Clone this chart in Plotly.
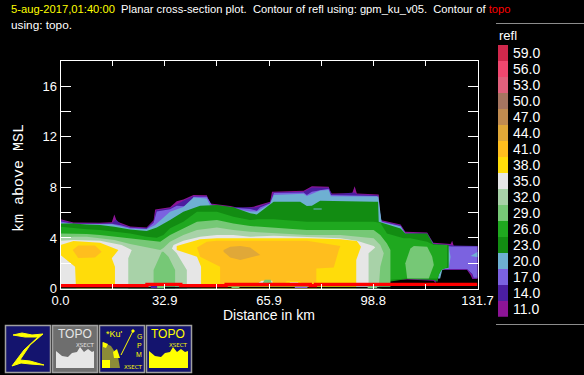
import plotly.graph_objects as go

FONT = "Liberation Sans"
refl_levels = [11, 14, 17, 20, 23, 26, 29, 32, 35, 38, 41, 44, 47, 50, 53, 56, 59]
refl_colors = ["#8C1496", "#4B1EA0", "#7B62E0", "#6EB0D2", "#128C12", "#1FA81F", "#76C876", "#A8D2A8", "#E6E6E6",
               "#FFDC0A", "#FFBE1E", "#E0A838", "#C08B50", "#A67560", "#E0607C", "#F0476F", "#D0284C"]
x_tick_vals = [0, 16.46, 32.92, 49.39, 65.85, 82.31, 98.77, 115.24, 131.7]
x_tick_text = ["0.0", "", "32.9", "", "65.9", "", "98.8", "", "131.7"]
y_tick_vals = [0, 2, 4, 6, 8, 10, 12, 14, 16, 18]
y_tick_text = ["0", "", "4", "", "8", "", "12", "", "16", ""]

# Outlines of the areas with reflectivity at or above each level: distance (km), height (km)
a11_x = [0, 4.1, 12.5, 16.2, 17, 17.8, 22, 27.2, 29.4, 29.9, 34.6, 36.7, 38.8, 42, 46.2, 47.3, 53.6, 56.8, 61, 66.2, 66.8, 76.8, 79.4, 84.7, 85.4, 92.1, 92.9, 93.6, 100.5, 101, 107.4, 108.9, 115.8, 117.7, 123.2, 123.7, 124.2, 131.8, 131.8, 130.1, 129.5, 128.4, 120.6, 118.8, 118.4, 117.9, 109.5, 103.7, 102.1, 100.5, 0]
a11_y = [5.47, 5.23, 5.2, 5.25, 5.86, 5.3, 4.9, 4.83, 5.4, 6.26, 6.42, 6.9, 7.05, 7.39, 7.37, 6.73, 6.52, 6.34, 6.47, 6.86, 7.66, 7.73, 8.1, 8.05, 7.52, 7.52, 8.1, 7.52, 7.44, 5.42, 5.07, 4.49, 4.44, 3.62, 3.52, 3.78, 3.36, 3.36, 0.75, 0.75, 1.07, 1.46, 1.46, 1.2, 0.41, 0.62, 0.72, 0.67, 0.28, 0, 0]
a14_x = [0, 4.1, 12.5, 16.2, 17.5, 19, 22, 27.2, 29.4, 30.2, 34.6, 38.8, 42, 46.2, 47.6, 53.6, 59.9, 62, 66.2, 67.2, 76.8, 79.4, 84.7, 85.8, 92.9, 93.6, 100.2, 101.2, 107.4, 108.9, 115.8, 117.9, 123.2, 124.2, 131.8, 131.8, 130.3, 129.9, 128.4, 120.8, 119.2, 118.6, 117.9, 109.5, 103.9, 102.1, 100.5, 0]
a14_y = [5.4, 5.17, 5.14, 5.18, 5.45, 5.1, 4.84, 4.78, 5.3, 6.2, 6.35, 6.95, 7.3, 7.3, 6.65, 6.45, 6.4, 6.42, 6.8, 7.6, 7.65, 8.0, 7.97, 7.45, 7.6, 7.45, 7.38, 5.35, 5, 4.4, 4.37, 3.55, 3.45, 3.4, 3.36, 0.8, 0.8, 1.1, 1.5, 1.5, 1.25, 0.45, 0.67, 0.77, 0.72, 0.33, 0, 0]
a17_x = [0, 4.1, 12.5, 16.2, 19, 22, 27.2, 29.4, 30.4, 34.6, 36.7, 38.8, 41, 42, 46.2, 47.8, 53.6, 59.9, 62, 63, 66.2, 67.4, 76.8, 77.8, 79.4, 82, 84.7, 85.4, 100, 101.4, 107.4, 109, 115.8, 117.9, 123.5, 131.8, 131.8, 130.5, 130.1, 128.4, 121, 119.6, 119, 118, 109.5, 104, 102.4, 100.8, 0]
a17_y = [5.3, 5.13, 5.1, 5.12, 5.0, 4.8, 4.73, 5.2, 6.1, 6.28, 6.55, 6.5, 6.6, 7.25, 7.25, 6.6, 6.4, 6.3, 6.15, 6.4, 6.75, 7.55, 7.6, 7.39, 7.65, 7.79, 7.9, 7.4, 7.32, 5.3, 4.95, 4.35, 4.3, 3.48, 3.33, 3.33, 0.85, 0.85, 1.15, 1.55, 1.55, 1.3, 0.55, 0.72, 0.82, 0.77, 0.4, 0, 0]
a20_x = [0, 4.1, 12.5, 16.2, 22, 27.2, 29.9, 34.6, 38.8, 42, 46.2, 47.3, 53.6, 56.8, 59.9, 62, 66.2, 67.4, 76.8, 77.8, 79.4, 82, 84.7, 85.4, 100.4, 101.4, 107.4, 108.9, 115.8, 117.9, 122.6, 123.2, 122.6, 120.6, 119.9, 118, 109.5, 104.2, 102.6, 101, 0]
a20_y = [5.2, 5.1, 5.08, 5.08, 4.72, 4.68, 5.02, 6.07, 6.45, 7.2, 7.13, 6.55, 6.35, 6.2, 6.1, 6.1, 6.7, 7.4, 7.5, 7.31, 7.47, 7.75, 7.8, 7.3, 7.28, 5.25, 4.9, 4.3, 4.2, 3.4, 3.3, 2.5, 1.6, 1.5, 0.8, 0.77, 0.87, 0.82, 0.45, 0, 0]
a20b_x = [129.5, 131.8, 131.8]
a20b_y = [2.57, 2.91, 2.47]
a20c_x = [79.9, 82.5, 82.5, 79.9]
a20c_y = [6.33, 6.33, 6.25, 6.25]
a23_x = [0, 4.1, 8.3, 12.5, 17, 22, 27.2, 30.4, 34.6, 38.8, 44.1, 49.4, 54.6, 59.9, 62, 67.3, 75.7, 77.8, 79.4, 82, 98.9, 100.3, 100.5, 107.4, 108.9, 115.8, 117.7, 122.1, 122.6, 122.6, 120.5, 119.5, 119, 117.9, 109.5, 103.7, 102.1, 101, 0]
a23_y = [5.15, 5.15, 5.07, 5.02, 4.89, 4.67, 4.55, 4.83, 5.42, 6.07, 6.55, 6.6, 6.42, 5.95, 5.86, 6.86, 6.86, 6.52, 6.55, 6.94, 6.86, 6.86, 5.28, 4.75, 4.36, 4.36, 3.52, 3.44, 3.44, 1.65, 1.55, 1.1, 0.54, 0.67, 0.75, 0.54, 0.28, 0.1, 0]
a26_x = [0, 4.1, 8.3, 12.5, 17, 22, 27.2, 30.4, 32.5, 34.6, 38.8, 43.1, 49.4, 54.6, 59.9, 62, 67.3, 77.8, 88.4, 98.9, 101, 103.1, 108.4, 110.5, 115.8, 117.9, 122.1, 122.1, 120, 119, 109.5, 103.1, 102.1, 101.5, 0]
a26_y = [4.89, 4.76, 4.68, 4.63, 4.49, 4.36, 4.1, 4.02, 4.23, 4.76, 5.28, 6.07, 6.07, 5.68, 5.42, 5.47, 5.47, 5.28, 5.28, 5.28, 5.2, 4.36, 3.97, 3.97, 3.7, 3.44, 3.44, 1.7, 1.4, 0.8, 0.8, 0.67, 0.41, 0, 0]
a29_x = [0, 4.1, 8.3, 12.5, 17, 22, 27.2, 31.5, 34.6, 38.8, 43.1, 49.4, 54.6, 59.9, 67.3, 77.8, 88.4, 98.9, 101, 103.1, 104.2, 104.2, 0]
a29_y = [4.36, 4.36, 4.31, 4.23, 4.1, 3.97, 3.83, 3.7, 4.23, 4.76, 5.28, 5.42, 5.15, 4.94, 4.83, 4.63, 4.63, 4.63, 4.23, 3.57, 3.04, 0, 0]
a29b_x = [108.9, 110.5, 111.6, 115.8, 117.4, 117.9, 116.3, 109.5]
a29b_y = [1.99, 3.17, 3.36, 3.31, 2.52, 1.86, 0.8, 0.8]
a32_x = [0, 4.1, 8.3, 12.5, 17, 22, 27.2, 31.5, 32.5, 34.6, 38.8, 43.1, 49.4, 54.6, 59.9, 67.3, 77.8, 88.4, 93.6, 98.9, 101, 102.1, 101, 100.5, 36.2, 36.2, 34.1, 32.5, 32, 29.4, 29.4, 0]
a32_y = [3.97, 4.1, 4.1, 3.97, 3.83, 3.52, 3.25, 3.04, 3.2, 3.7, 4.23, 4.63, 4.83, 4.63, 4.49, 4.36, 4.23, 4.23, 4.1, 3.97, 3.44, 2.78, 1.73, 0, 0, 1.46, 2.52, 2.91, 2.91, 1.46, 0, 0]
a35_x = [0, 4.1, 12.5, 17.2, 19.3, 22.5, 21.4, 21.4, 0]
a35_y = [3.78, 3.83, 3.78, 3.57, 3.44, 3.04, 2.39, 0, 0]
a35b_x = [35.7, 38.8, 44.1, 49.4, 54.6, 59.9, 67.3, 77.8, 88.4, 93.6, 98.9, 99.4, 97.3, 97.3, 39.9, 39.9, 36.7, 35.2]
a35b_y = [3.44, 3.78, 4.1, 4.23, 4.23, 4.1, 4.18, 4.1, 3.97, 3.78, 3.36, 3.25, 2.78, 0, 0, 1.46, 2.78, 3.17]
a38_x = [0, 4.1, 12.5, 17.2, 18.3, 16.2, 17.2, 17.2, 4.9, 4.6, 2, 0]
a38_y = [3.44, 3.75, 3.62, 3.17, 3.04, 2.39, 1.73, 0, 0, 1.73, 2.25, 2.65]
a38b_x = [36.7, 38.8, 44.1, 49.4, 54.6, 59.9, 67.3, 77.8, 88.4, 93.6, 94.9, 93.4, 93.4, 44.4, 44.4, 43.1, 36.7]
a38b_y = [3.36, 3.52, 3.89, 3.97, 3.97, 3.97, 3.97, 3.97, 3.89, 3.75, 3.31, 2.25, 0, 0, 1.73, 2.52, 3.04]
a41_x = [3.85, 5.6, 10.9, 13, 10.9, 5.6]
a41_y = [3.04, 3.41, 3.41, 2.91, 2.46, 2.41]
a41b_x = [43.1, 46.2, 49.4, 59.9, 67.3, 77.8, 88.4, 87.9, 86.3, 80.8, 80.8, 50.4, 50.4, 44.1]
a41b_y = [3.25, 3.7, 3.78, 3.78, 3.83, 3.78, 3.36, 3.04, 1.67, 1.59, 0, 0, 1.73, 2.52]
a44_x = [51.5, 53.6, 56.8, 59.9, 63.1, 59.9, 56.8, 53.6, 51.5]
a44_y = [3.04, 3.31, 3.36, 3.25, 2.65, 2.46, 2.25, 2.46, 2.91]

# Small low-level echoes just above the ground contour
bump_38_x = [70.5, 71.5, 75.5, 76.5]
bump_38_y = [0.3, 0.6, 0.6, 0.3]
bump_35_x = [72, 72.5, 75, 75.5]
bump_35_y = [0.3, 0.5, 0.5, 0.3]
bump_35b_x = [61.8, 63.5, 66.9, 66.9]
bump_35b_y = [0.3, 0.62, 0.62, 0.3]
bump_29_x = [63.5, 64.5, 66.4, 66.9]
bump_29_y = [0.3, 0.7, 0.7, 0.3]

# Ground strip under the contour, with echoes showing through it
ground_x = [0, 131.7, 131.7, 0]
ground_y = [0, 0, 0.13, 0.13]
speck_29_x = [30.5, 33, 33, 30.5]
speck_29_y = [0.02, 0.02, 0.22, 0.22]
speck_14_x = [28.5, 30.5, 30.5, 28.5]
speck_14_y = [0.02, 0.02, 0.22, 0.22]
speck_29b_x = [54, 56.5, 56.5, 54]
speck_29b_y = [0.03, 0.03, 0.14, 0.14]
speck_29c_x = [97, 100, 100, 97]
speck_29c_y = [0.03, 0.03, 0.14, 0.14]
speck_17_x = [74, 78, 78, 74]
speck_17_y = [0.04, 0.04, 0.14, 0.14]

# Topography contour
topo_x = [0, 27.3, 27.3, 38, 38, 52.3, 52.3, 78.9, 78.9, 80.5, 80.5, 131.7]
topo_y = [0.22, 0.22, 0.32, 0.32, 0.22, 0.22, 0.32, 0.32, 0.22, 0.22, 0.32, 0.32]

outlines = [
    (a11_x, a11_y, 11), (a14_x, a14_y, 14), (a17_x, a17_y, 17), (a20_x, a20_y, 20), (a20b_x, a20b_y, 20),
    (a23_x, a23_y, 23), (a20c_x, a20c_y, 20), (a26_x, a26_y, 26), (a29_x, a29_y, 29), (a29b_x, a29b_y, 29), (a32_x, a32_y, 32),
    (a35_x, a35_y, 35), (a35b_x, a35b_y, 35), (a38_x, a38_y, 38), (a38b_x, a38b_y, 38),
    (a41_x, a41_y, 41), (a41b_x, a41b_y, 41), (a44_x, a44_y, 44),
    (bump_38_x, bump_38_y, 38), (bump_35_x, bump_35_y, 35), (bump_35b_x, bump_35b_y, 35), (bump_29_x, bump_29_y, 29),
]
specks = [(speck_29_x, speck_29_y, 29), (speck_14_x, speck_14_y, 14), (speck_29b_x, speck_29b_y, 29),
          (speck_29c_x, speck_29c_y, 29), (speck_17_x, speck_17_y, 17)]

fig = go.Figure()
def area(xs, ys, col):
    fig.add_trace(go.Scatter(x=xs, y=ys, mode="lines", fill="toself", fillcolor=col,
                             line=dict(width=0, color=col), hoverinfo="skip", showlegend=False))
for xs, ys, lev in outlines:
    area(xs, ys, refl_colors[refl_levels.index(lev)])
area(ground_x, ground_y, "#000000")
for xs, ys, lev in specks:
    area(xs, ys, refl_colors[refl_levels.index(lev)])
fig.add_trace(go.Scatter(x=topo_x, y=topo_y, mode="lines", line=dict(color="#FF0000", width=3.3),
                         hoverinfo="skip", showlegend=False))

# colour key
n = len(refl_levels)
cs = []
for i, c in enumerate(refl_colors):
    cs += [[i / n, c], [(i + 1) / n, c]]
fig.add_trace(go.Heatmap(x=[0], y=list(range(n)), z=[[v] for v in refl_levels], xaxis="x2", yaxis="y2",
                         zmin=9.5, zmax=60.5, colorscale=cs, showscale=False, hoverinfo="skip", xgap=0, ygap=0))

W, H = 584.0, 375.0
PX = lambda p: p / W
PY = lambda p: 1 - p / H
def rect(x0, y0, x1, y1, fill, line=None, lw=0):
    return dict(type="rect", xref="paper", yref="paper", x0=PX(x0), x1=PX(x1), y0=PY(y0), y1=PY(y1),
                fillcolor=fill, line=dict(color=line or fill, width=lw), layer="above")
def path(pts, fill=None, line=None, lw=1):
    d = "M " + " L ".join(f"{PX(a):.4f},{PY(b):.4f}" for a, b in pts)
    if fill:
        d += " Z"
    return dict(type="path", xref="paper", yref="paper", path=d, fillcolor=fill or "rgba(0,0,0,0)",
                line=dict(color=line or "rgba(0,0,0,0)", width=lw), layer="above")
def text(x, y, s, color="#FFFFFF", size=13, anchor="left", angle=0, family=FONT, va="middle"):
    return dict(xref="paper", yref="paper", x=PX(x), y=PY(y), text=s, showarrow=False, textangle=angle,
                xanchor=anchor, yanchor=va, font=dict(color=color, size=size, family=family),
                xshift=0, yshift=0, borderpad=0, align="left")

NAVY, YEL, GR = "#14146E", "#FFFF00", "#A0A0A0"
shapes = [
    dict(type="line", xref="paper", yref="paper", x0=PX(496), x1=1, y0=PY(23.5), y1=PY(23.5), line=dict(color="#8C8C8C", width=1)),
    dict(type="line", xref="paper", yref="paper", x0=PX(496), x1=1, y0=PY(324.5), y1=PY(324.5), line=dict(color="#8C8C8C", width=1)),
    rect(5.5, 325.5, 50.5, 372.5, NAVY, GR, 1.5),
    rect(52.5, 325.5, 97.5, 372.5, "#6E6E6E", GR, 1.5),
    rect(99.5, 325.5, 144.5, 372.5, NAVY, GR, 1.5),
    rect(146.5, 325.5, 191.5, 372.5, NAVY, GR, 1.5),
    path([(13, 335), (22, 333), (32, 335), (43, 334), (30, 345), (20, 360), (30, 361), (44, 365), (30, 364), (21, 363), (12, 366), (24, 350), (38, 337), (25, 337)], YEL, YEL, 1),
    path([(56, 368), (56, 351), (62, 356), (68, 357), (72, 353), (77, 352), (80, 347), (84, 352), (88, 349), (92, 352), (94, 351), (94, 368)], "#E6E6E6"),
    path([(149, 368), (149, 351), (155, 356), (161, 357), (165, 353), (170, 352), (173, 347), (177, 352), (181, 349), (185, 352), (188, 351), (188, 368)], YEL),
    path([(102, 342), (111, 346), (118, 357), (120, 368), (102, 368)], "#8C8C38"),
    path([(102, 360), (110, 360), (110, 368), (102, 368)], YEL),
    path([(103, 342), (108, 344), (106, 348), (103, 347)], YEL),
    path([(113, 352), (117, 349), (120, 358), (114, 358)], YEL),
    path([(121, 355), (133, 331)], None, YEL, 1),
    path([(131, 331), (133, 329), (135, 331), (133, 333)], YEL),
]
anns = [
    text(10, 9, '<span style="color:#FFFF00">5-aug-2017,01:40:00</span>  Planar cross-section plot.  Contour of refl using: gpm_ku_v05.  Contour of <span style="color:#FF0000">topo</span>', size=11.2),
    text(10, 25, "using: topo.", size=11.8),
    text(19, 178, "km above MSL", size=15, angle=-90, anchor="center", family="Liberation Mono"),
    text(269, 315, "Distance in km", size=14, anchor="center"),
    text(498, 36, "refl", size=13),
    text(75, 334, "TOPO", color="#E6E6E6", size=12, anchor="center"),
    text(85, 345, "XSECT", color="#E6E6E6", size=5.5, anchor="center", family="DejaVu Sans"),
    text(168, 334, "TOPO", color=YEL, size=12, anchor="center"),
    text(178, 345, "XSECT", color=YEL, size=5.5, anchor="center", family="DejaVu Sans"),
    text(114, 334, "*Ku'", color=YEL, size=9, anchor="center"),
    text(139, 336, "G", color=YEL, size=7, anchor="center"),
    text(139, 345, "P", color=YEL, size=7, anchor="center"),
    text(139, 354, "M", color=YEL, size=7, anchor="center"),
    text(133, 367, "XSECT", color=YEL, size=5.5, anchor="center", family="DejaVu Sans"),
]

axis_common = dict(showgrid=False, zeroline=False, showline=True, linecolor="#FFFFFF", linewidth=1, mirror="allticks",
                   ticks="inside", tickcolor="#FFFFFF", tickwidth=1, automargin=False,
                   tickfont=dict(color="#FFFFFF", size=13, family=FONT))
fig.update_layout(
    width=584, height=375, margin=dict(l=0, r=0, t=0, b=0), autosize=False,
    paper_bgcolor="#000000", plot_bgcolor="#000000", showlegend=False,
    xaxis=dict(domain=[60.5 / W, 477.5 / W], range=[0, 131.7], tickmode="array", tickvals=x_tick_vals, ticktext=x_tick_text,
               ticklen=5, anchor="y", **axis_common),
    yaxis=dict(domain=[1 - 288.5 / H, 1 - 61 / H], range=[0, 18], tickmode="array", tickvals=y_tick_vals, ticktext=y_tick_text,
               ticklen=10, anchor="x", **axis_common),
    xaxis2=dict(domain=[498 / W, 508 / W], range=[-0.5, 0.5], visible=False, anchor="y2", automargin=False),
    yaxis2=dict(domain=[1 - 316.7 / H, 1 - 45 / H], range=[-0.5, n - 0.5], side="right", anchor="x2", showgrid=False, zeroline=False,
                showline=False, ticks="", tickmode="array", tickvals=list(range(n)), ticktext=[f"{v:.1f}" for v in refl_levels],
                tickfont=dict(color="#FFFFFF", size=14, family=FONT), ticklabelstandoff=4, automargin=False),
    shapes=shapes, annotations=anns,
)
fig.write_html("out.html", config=dict(displayModeBar=False),
               post_script="document.body.style.margin='0';document.body.style.background='#000';")
